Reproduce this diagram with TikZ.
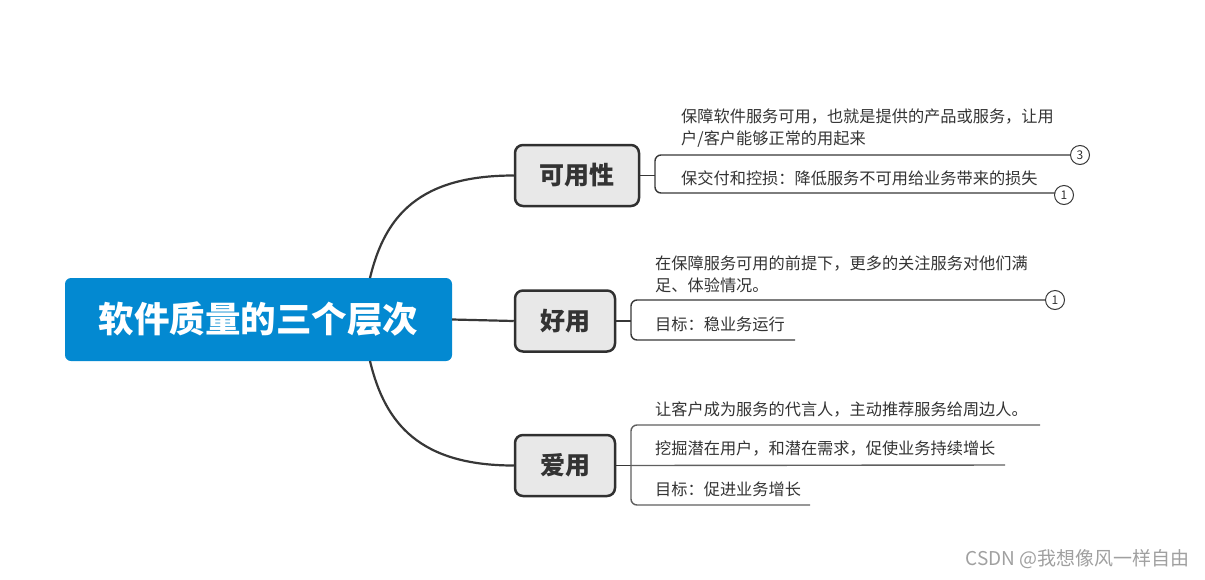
\documentclass[tikz,border=0pt]{standalone}
\usepackage{fontspec}
\setmainfont{Noto Sans CJK SC}
\definecolor{titleblue}{RGB}{3,137,209}
\definecolor{boxfill}{RGB}{232,232,232}
\definecolor{boxline}{RGB}{48,48,48}
\definecolor{txt}{RGB}{51,51,51}
\definecolor{ln}{RGB}{55,55,55}
\definecolor{ln2}{RGB}{95,95,95}
\definecolor{wm}{RGB}{160,160,160}
\tikzset{
  rootbox/.style={fill=titleblue, rounded corners=6, minimum width=387, minimum height=83, text=white, font=\fontsize{35.5}{40}\selectfont\bfseries, inner sep=0},
  levelbox/.style={fill=boxfill, draw=boxline, line width=2.5, rounded corners=8, minimum height=61, text=txt, font=\fontsize{25}{28}\selectfont\bfseries, inner sep=0},
  leaf/.style={anchor=west, inner sep=0, text=txt, font=\fontsize{16.2}{22}\selectfont, align=left},
  marker/.style={circle, draw=ln, line width=1, fill=white, minimum size=19, inner sep=0, font=\fontsize{12}{13}\selectfont, text=txt},
  conn/.style={draw=ln, line width=2.2},
  bracket/.style={draw=ln, line width=1.4, rounded corners=6},
}
\begin{document}
\begin{tikzpicture}[x=1pt,y=-1pt]
\useasboundingbox (0,0) rectangle (1205,579);
\node[rootbox] (root) at (258.5,319.5) {软件质量的三个层次};
\node[levelbox, minimum width=124] (k1) at (577,175.5) {可用性};
\node[levelbox, minimum width=100] (k2) at (565,321) {好用};
\node[levelbox, minimum width=100] (k3) at (565,465.5) {爱用};
\coordinate (r1) at (370,278);
\coordinate (r3) at (370,361);
\draw[conn] (root.east) -- (k2.west);
\draw[conn] (r1) .. controls (385,215) and (420,175.5) .. (k1.west);
\draw[conn] (r3) .. controls (385,424) and (420,465.5) .. (k3.west);
% branch 1
\node[leaf] (t11) at (681,128) {保障软件服务可用，也就是提供的产品或服务，让用\\户/客户能够正常的用起来};
\node[leaf] (t12) at (681,178) {保交付和控损：降低服务不可用给业务带来的损失};
\node[marker] (m11) at (1080,155) {3};
\node[marker] (m12) at (1064,195) {1};
\coordinate (b1) at (655,175.5);
\draw[conn, line width=1.4] (k1.east) -- (b1);
\draw[bracket] (m11.west) -- (655,155) -- (655,193) -- (1055,193);
% branch 2
\node[leaf] (t21) at (655,274) {在保障服务可用的前提下，更多的关注服务对他们满\\足、体验情况。};
\node[leaf] (t22) at (655,324) {目标：稳业务运行};
\node[marker] (m21) at (1055,300) {1};
\coordinate (b2) at (631,321);
\coordinate (e2) at (795,340);
\draw[conn, line width=1.4] (k2.east) -- (b2);
\draw[bracket] (m21.west) -- (631,300) -- (631,340) -- (e2);
% branch 3
\node[leaf] (t31) at (655,409) {让客户成为服务的代言人，主动推荐服务给周边人。};
\node[leaf] (t32) at (655,448) {挖掘潜在用户，和潜在需求，促使业务持续增长};
\node[leaf] (t33) at (655,489) {目标：促进业务增长};
\coordinate (b3) at (631,465.5);
\coordinate (e31) at (1040,425);
\coordinate (e32) at (1005,465);
\coordinate (e33) at (810,505);
\draw[conn, line width=1.4] (k3.east) -- (b3);
\draw[bracket, draw=ln2] (e31) -- (631,425) -- (631,505) -- (e33);
\draw[draw=ln2, line width=1.4] (b3) -- (e32);
% watermark
\node[anchor=east, inner sep=0, text=wm, font=\fontsize{19}{22}\selectfont] (wmk) at (1190,559) {CSDN @我想像风一样自由};
\end{tikzpicture}
\end{document}
